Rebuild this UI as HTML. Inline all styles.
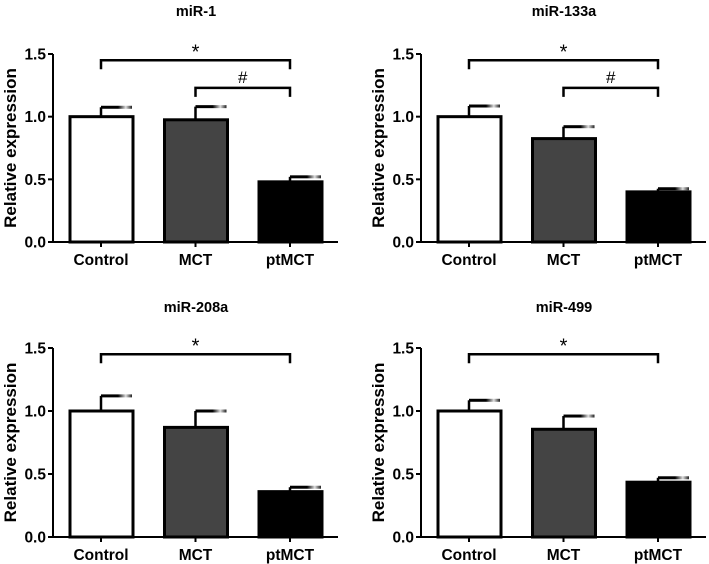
<!DOCTYPE html>
<html><head><meta charset="utf-8"><style>
html,body{margin:0;padding:0;background:#fff;}
svg{display:block;font-family:"Liberation Sans",Arial,sans-serif;font-weight:bold;}
</style></head><body>
<svg id="fig" width="709" height="564" viewBox="0 0 709 564">
<defs><linearGradient id="capg" x1="0" x2="1"><stop offset="0" stop-color="#000"/><stop offset="0.55" stop-color="#000"/><stop offset="0.8" stop-color="#ddd"/><stop offset="1" stop-color="#222"/></linearGradient></defs>
</svg>
<script>
const categories = ["Control","MCT","ptMCT"];
const titles = ["miR-1","miR-133a","miR-208a","miR-499"];
const means1 = [1.0, 0.975, 0.48];
const errs1 = [0.075, 0.105, 0.04];
const means2 = [1.0, 0.825, 0.40];
const errs2 = [0.085, 0.095, 0.025];
const means3 = [1.0, 0.87, 0.36];
const errs3 = [0.12, 0.13, 0.035];
const means4 = [1.0, 0.855, 0.435];
const errs4 = [0.085, 0.105, 0.035];
const yTicks = [0.0, 0.5, 1.0, 1.5];
const yTickLabels = ["0.0","0.5","1.0","1.5"];
const sigStar = [[0,2,1.45],[0,2,1.45],[0,2,1.45],[0,2,1.45]];
const sigHash = [[1,2,1.23],[1,2,1.23],null,null];
const means = [means1,means2,means3,means4];
const errs = [errs1,errs2,errs3,errs4];
const fills = ["#fff","#444","#000"];

const svg = document.getElementById('fig');
const NS = "http://www.w3.org/2000/svg";
function mk(tag, attrs, parent){const e=document.createElementNS(NS,tag);for(const k in attrs)e.setAttribute(k,attrs[k]);(parent||svg).appendChild(e);return e;}

const panels = [{ax:53,y0:242,y15:54,ty:16},{ax:421,y0:242,y15:54,ty:16},{ax:53,y0:537,y15:348,ty:312},{ax:421,y0:537,y15:348,ty:312}];

panels.forEach((p,pi)=>{
  const g = mk('g',{});
  
  
  const yS = v => p.y0 - (v/1.5)*(p.y0-p.y15);
  const xS = i => p.ax + 48 + i*94.5;
  const xEnd = p.ax + 285;
  const t = mk('text',{x:p.ax+143,y:p.ty,'text-anchor':'middle','font-size':14.5},g);
  t.textContent = titles[pi];
  
  
  const yl = mk('text',{x:0,y:0,'text-anchor':'middle','font-size':17,transform:`translate(${p.ax-37},${(p.y0+p.y15)/2}) rotate(-90)`},g);
  yl.textContent = 'Relative expression';
  
  
  categories.forEach((c,i)=>{
    const cx = xS(i), m = means[pi][i], e = errs[pi][i];
    const ey = yS(m+e);
    const eb = mk('line',{x1:cx,x2:cx,y1:yS(m),y2:ey,stroke:'#000','stroke-width':2.5},g);
    
    
    const cap = mk('rect',{x:cx,y:ey-1.5,width:31,height:3,fill:'url(#capg)'},g);
    
    
    const b = mk('rect',{x:cx-31,y:yS(m),width:63,height:p.y0-yS(m),fill:fills[i],stroke:'#000','stroke-width':3},g);
    
    
    const tk = mk('line',{x1:cx,x2:cx,y1:p.y0,y2:p.y0+5,stroke:'#000','stroke-width':2},g);
    
    
    const tl = mk('text',{x:cx,y:p.y0+23,'text-anchor':'middle','font-size':15.5},g);
    tl.textContent = c;
    
    
  });
  const ya = mk('line',{x1:p.ax,x2:p.ax,y1:p.y15,y2:p.y0+1,stroke:'#000','stroke-width':2},g);
  
  
  const xa = mk('line',{x1:p.ax-1,x2:xEnd,y1:p.y0,y2:p.y0,stroke:'#000','stroke-width':2},g);
  
  
  yTicks.forEach((v,k)=>{
    const tk = mk('line',{x1:p.ax-5,x2:p.ax,y1:yS(v),y2:yS(v),stroke:'#000','stroke-width':2},g);
    
    
    const tl = mk('text',{x:p.ax-7,y:yS(v)+5.5,'text-anchor':'end','font-size':15.5},g);
    tl.textContent = yTickLabels[k];
    
    
  });
  [[sigStar[pi],'*'],[sigHash[pi],'#']].forEach(([s,sym])=>{
    if(!s) return;
    const y = yS(s[2]), x1 = xS(s[0]), x2 = xS(s[1]);
    const br = mk('path',{d:`M${x1},${y+9}V${y}H${x2}V${y+9}`,fill:'none',stroke:'#000','stroke-width':2.5},g);
    
    
    const st = mk('text',{x:(x1+x2)/2,y:sym==='*'?y-2:y-5,'text-anchor':'middle','font-size':sym==='*'?20:17,'font-weight':'normal'},g);
    st.textContent = sym;
    
    
  });
});
</script>
</body></html>
